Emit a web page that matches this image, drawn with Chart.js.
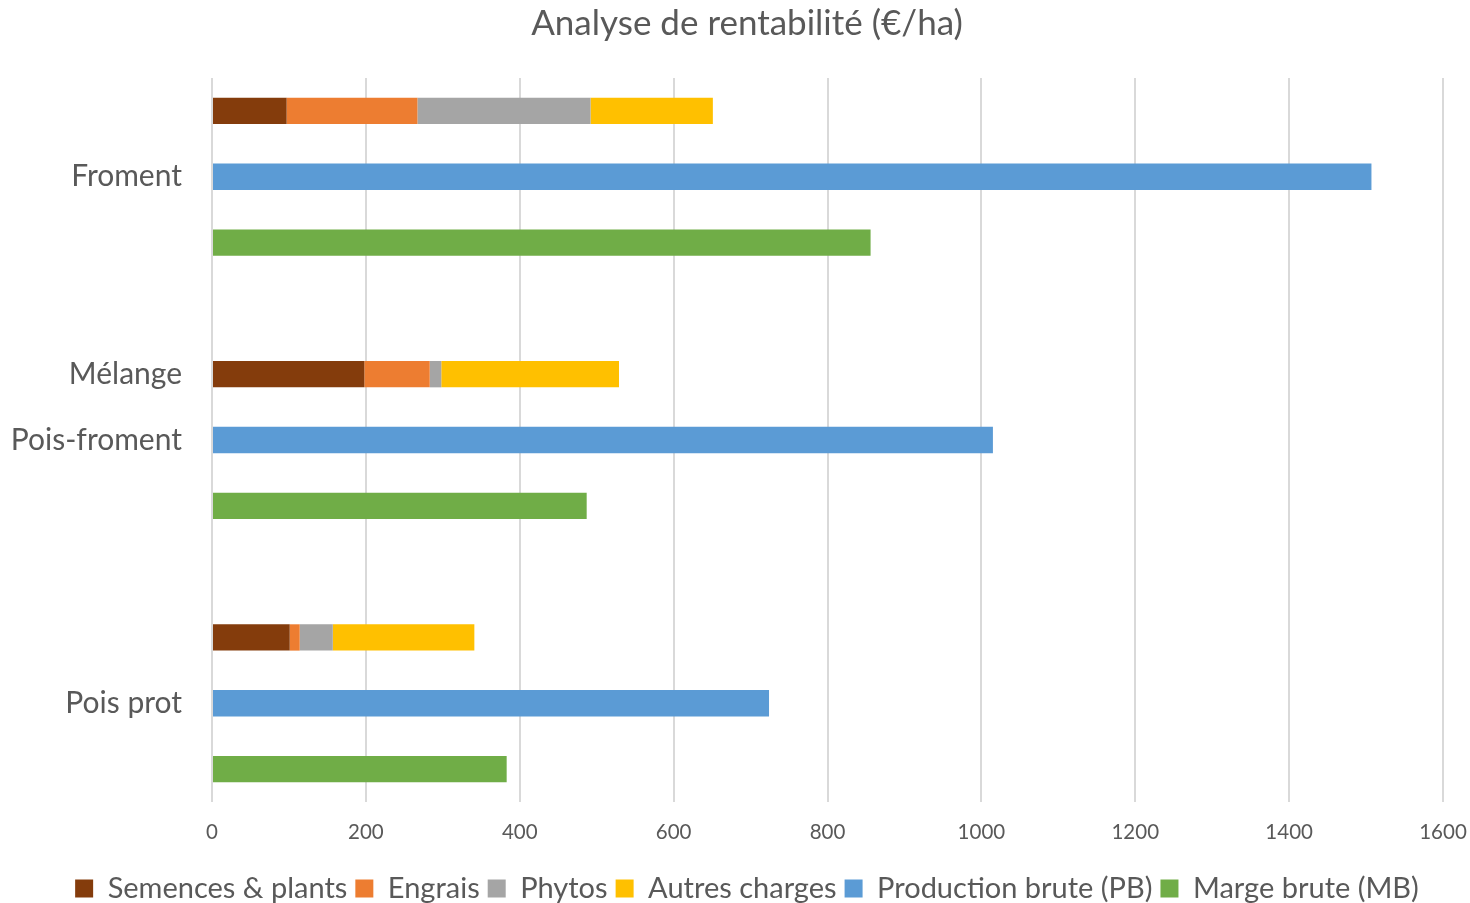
<!DOCTYPE html>
<html lang="fr">
<head>
<meta charset="utf-8">
<title>Analyse de rentabilité</title>
<script src="https://cdn.jsdelivr.net/npm/chart.js@4/dist/chart.umd.min.js"></script>
<style>
  html, body { margin: 0; padding: 0; background: #ffffff; }
  #wrap { width: 1470px; height: 903px; }
</style>
</head>
<body>
<div id="wrap"><canvas id="c" width="1470" height="903"></canvas></div>
<script>
// Cultures (ordre d'affichage, de haut en bas)
const crops = ['Froment', 'Mélange Pois-froment', 'Pois prot'];

// Charges (€/ha)
const semences = [97, 198, 101];
const engrais = [170, 85, 13];
const phytos = [225, 15, 43];
const autres = [159, 231, 184];

// Produit et marge (€/ha)
const productionBrute = [1507, 1015, 724];
const margeBrute = [856, 487, 383];

// Libellés des lignes de l'axe vertical (3 barres par culture + une ligne vide entre cultures)
const rowLabels = ['', 'Froment', '', '', 'Mélange', 'Pois-froment', '', '', '', 'Pois prot', ''];

// Axe horizontal
const xMin = 0, xMax = 1600, xStep = 200;

const ROWS_PER_CROP = 4;
// Place chaque valeur de culture sur sa ligne : 0 = charges, 1 = PB, 2 = MB
function toRows(values, slot) {
  const rows = new Array(rowLabels.length).fill(null);
  values.forEach((v, i) => { rows[i * ROWS_PER_CROP + slot] = v; });
  return rows;
}

const textColor = '#595959';
const fontFamily = 'Lato, "Open Sans", sans-serif';

const datasets = [
  { label: 'Semences & plants', data: toRows(semences, 0), backgroundColor: '#843C0C' },
  { label: 'Engrais', data: toRows(engrais, 0), backgroundColor: '#ED7D31' },
  { label: 'Phytos', data: toRows(phytos, 0), backgroundColor: '#A5A5A5' },
  { label: 'Autres charges', data: toRows(autres, 0), backgroundColor: '#FFC000' },
  { label: 'Production brute (PB)', data: toRows(productionBrute, 1), backgroundColor: '#5B9BD5' },
  { label: 'Marge brute (MB)', data: toRows(margeBrute, 2), backgroundColor: '#70AD47' }
].map(d => Object.assign(d, { barPercentage: 0.4, categoryPercentage: 1.0, borderWidth: 0 }));

new Chart(document.getElementById('c'), {
  type: 'bar',
  data: { labels: rowLabels, datasets },
  options: {
    indexAxis: 'y',
    responsive: false,
    animation: false,
    devicePixelRatio: 1,
    layout: { padding: { left: 0, right: -24, top: 0, bottom: -10 } },
    plugins: {
      title: {
        display: true,
        text: 'Analyse de rentabilité (€/ha)',
        color: textColor,
        font: { family: fontFamily, size: 35, weight: 'normal' },
        padding: { top: 3, bottom: 33 }
      },
      legend: {
        position: 'bottom',
        labels: {
          color: textColor,
          font: { family: fontFamily, size: 29 },
          boxWidth: 18,
          boxHeight: 18,
          padding: 8
        }
      },
      tooltip: { enabled: false }
    },
    scales: {
      x: {
        stacked: true,
        min: xMin,
        max: xMax,
        ticks: {
          stepSize: xStep,
          color: textColor,
          font: { family: fontFamily, size: 20.5 },
          padding: 18,
          callback: v => String(v)
        },
        grid: { color: '#d9d9d9', lineWidth: 2, drawTicks: false },
        border: { display: false },
        afterFit: s => { s.height = 64; s.paddingLeft = 0; s.paddingRight = 27; }
      },
      y: {
        stacked: true,
        ticks: {
          color: textColor,
          font: { family: fontFamily, size: 30 },
          padding: 30,
          autoSkip: false
        },
        grid: { display: false, drawTicks: false },
        border: { display: false },
        afterFit: s => { s.width = 212; }
      }
    }
  }
});
</script>
</body>
</html>
